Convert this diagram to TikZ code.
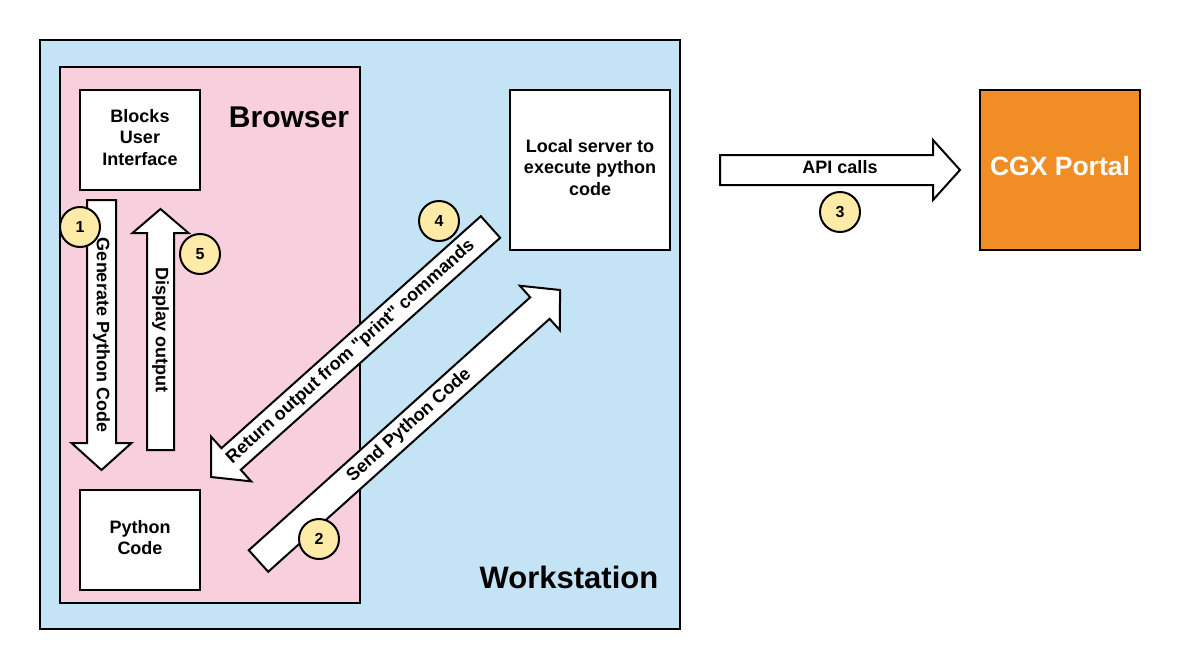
\documentclass[tikz,border=0pt]{standalone}
\usepackage{fontspec}
\setmainfont{Liberation Sans}[Ligatures=TeXOff]
\usetikzlibrary{calc}
\definecolor{wsblue}{HTML}{C4E4F6}
\definecolor{brpink}{HTML}{F8D0DD}
\definecolor{cgxorange}{HTML}{F08D24}
\definecolor{stepyellow}{HTML}{FFEBA8}
\tikzset{
  boxstyle/.style={draw=black, line width=2pt, fill=white, inner sep=2pt, align=center,
    font=\bfseries\fontsize{18}{21.5}\selectfont},
  areastyle/.style={draw=black, line width=2pt, inner sep=0pt},
  fatarrowstyle/.style={draw=black, line width=2pt, fill=white, line join=miter},
  arrowtext/.style={font=\bfseries\fontsize{18}{20}\selectfont, inner sep=0pt},
  stepcircle/.style={circle, draw=black, line width=2pt, fill=stepyellow, minimum size=40pt,
    inner sep=0pt, font=\bfseries\fontsize{16}{16}\selectfont},
  titletext/.style={font=\bfseries\fontsize{#1}{#1}\selectfont, inner sep=0pt}
}
% tail, tip, half shaft width, half head width, head length
\newcommand\fatarrow[5]{%
  \coordinate (fa-h) at ($(#2)!#5!(#1)$);
  \draw[fatarrowstyle] ($(#1)!#3!90:(#2)$) -- ($(fa-h)!#3!90:(#2)$) -- ($(fa-h)!#4!90:(#2)$)
    -- (#2) -- ($(fa-h)!#4!-90:(#2)$) -- ($(fa-h)!#3!-90:(#2)$) -- ($(#1)!#3!-90:(#2)$) -- cycle;
}
\begin{document}
\begin{tikzpicture}[x=1pt, y=-1pt]
\useasboundingbox (0,0) rectangle (1180,670);
% areas
\node[areastyle, fill=wsblue, minimum width=640pt, minimum height=589pt] (ws) at (360,334.5) {};
\node[areastyle, fill=brpink, minimum width=300pt, minimum height=536pt] (br) at (210,335) {};
\node[titletext=30] (brtitle) at (289,117) {Browser};
\node[titletext=31] (wstitle) at (569,577) {Workstation};
% boxes
\node[boxstyle, minimum width=120pt, minimum height=100pt] (blocks) at (140,140) {};
\node[align=center, font=\bfseries\fontsize{18}{21.5}\selectfont, inner sep=0pt] (blockstxt) at (140,137.5) {Blocks\\User\\Interface};
\node[boxstyle, minimum width=120pt, minimum height=100pt] (pycode) at (140,540) {};
\node[align=center, font=\bfseries\fontsize{18}{21.5}\selectfont, inner sep=0pt] (pycodetxt) at (140,537.5) {Python\\Code};
\node[boxstyle, minimum width=160pt, minimum height=160pt] (server) at (590,170) {};
\node[align=center, font=\bfseries\fontsize{18}{21.5}\selectfont, inner sep=0pt] (servertxt) at (590,167.5) {Local server to\\execute python\\code};
\node[boxstyle, fill=cgxorange, minimum width=160pt, minimum height=160pt] (cgx) at (1060,170) {};
\node[text=white, font=\bfseries\fontsize{26.5}{26.5}\selectfont, inner sep=0pt] (cgxtxt) at (1060,166) {CGX Portal};
% arrow end points
\coordinate (a1s) at (101.5,200); \coordinate (a1e) at (101.5,470);
\coordinate (a5s) at (160.5,450); \coordinate (a5e) at (160.5,209);
\coordinate (a4s) at (490.5,227); \coordinate (a4e) at (211,477);
\coordinate (a2s) at (258.5,561); \coordinate (a2e) at (560,290);
\coordinate (a3s) at (720,170);   \coordinate (a3e) at (960,170);
% block arrows
\fatarrow{a1s}{a1e}{14.5pt}{30pt}{27pt}
\fatarrow{a5s}{a5e}{13.5pt}{28pt}{24pt}
\fatarrow{a4s}{a4e}{14.5pt}{30pt}{27pt}
\fatarrow{a2s}{a2e}{14.5pt}{30pt}{27pt}
\fatarrow{a3s}{a3e}{15pt}{30pt}{27pt}
% arrow labels
\path (a1s) -- (a1e) node[midway, rotate=-90, arrowtext] (t1) {Generate Python Code};
\path (a5s) -- (a5e) node[midway, rotate=-90, arrowtext] (t5) {Display output};
\path (a4s) -- (a4e) node[midway, sloped, arrowtext] (t4) {Return output from "print" commands};
\path (a2s) -- (a2e) node[midway, sloped, arrowtext] (t2) {Send Python Code};
\path (a3s) -- (a3e) node[midway, arrowtext, yshift=3pt] (t3) {API calls};
% step circles
\node[stepcircle] (c1) at (80,227) {1};
\node[stepcircle] (c5) at (200,254) {5};
\node[stepcircle] (c4) at (439,221) {4};
\node[stepcircle] (c2) at (319,539) {2};
\node[stepcircle] (c3) at (840,212) {3};
\end{tikzpicture}
\end{document}
